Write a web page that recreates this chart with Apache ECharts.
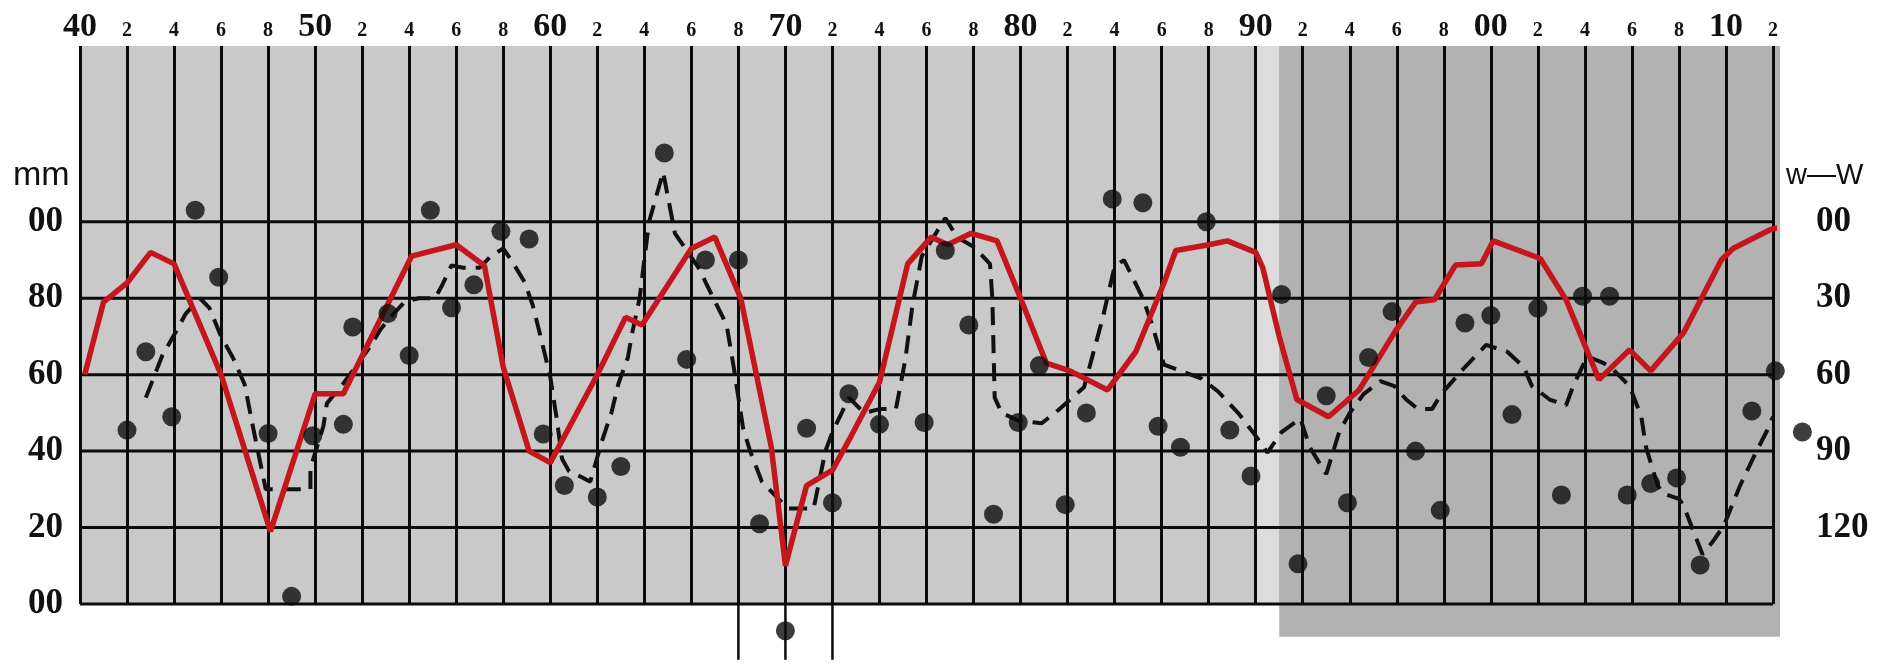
<!DOCTYPE html>
<html><head><meta charset="utf-8">
<script src="https://cdn.jsdelivr.net/npm/echarts@6/dist/echarts.min.js"></script>
<style>html,body{margin:0;padding:0;background:#fff}#c{width:1895px;height:672px}</style>
</head><body><div id="c"></div>
<script>
// ---- data ----
const redYears = [1940.2,1941,1942,1943,1944,1946,1948.1,1950,1951.2,1954.1,1956,1957.2,1958,1959.1,1960,1962,1963.2,1963.9,1966,1967,1968.1,1969.4,1970,1970.9,1972,1972.8,1974,1975.2,1976.2,1976.9,1977.9,1979,1980,1981.1,1982.1,1983.7,1984.9,1986.1,1986.6,1988,1988.8,1990,1990.3,1991,1991.75,1993.1,1994.4,1995.9,1996.8,1997.6,1998.5,1999.6,2000.1,2002.1,2003.2,2004.6,2005.9,2006.8,2008.2,2009.8,2010.3,2011.9,2013.3];
const redValues = [60,79,84,92,89,60,19,55,55,91,94,88.5,62,40,37,60,75,73,93,96,80,41,10,31,35,44,58,89,96,94,97,95,80,63,61,56,66,84,92.5,94,95,92,88,70,53.5,49,56,71,79,79.6,88.7,89,95,90.4,79.6,58.7,66.5,61,71,90,93,98,100];

const dashYears = [1942.8,1943.5,1944.1,1944.5,1945.1,1945.5,1946,1946.5,1947,1947.4,1947.9,1949.8,1949.8,1950.35,1950.5,1951.2,1952.3,1952.8,1953.3,1953.8,1954.4,1955.1,1955.4,1955.8,1956.3,1957,1957.5,1958,1958.4,1958.9,1959.25,1959.6,1960,1960.3,1960.5,1960.8,1961.3,1961.7,1962.2,1962.6,1962.9,1963.3,1963.5,1963.8,1964.2,1964.8,1965.3,1966.3,1967.5,1967.8,1968.2,1968.5,1969,1970.1,1971.2,1971.7,1972,1972.7,1973.35,1974,1974.7,1975.1,1975.4,1975.8,1976.8,1977.3,1978,1978.7,1978.8,1978.9,1979.2,1979.9,1980.9,1981.6,1982.7,1983.5,1984,1984.4,1985.2,1985.6,1986.1,1986.8,1987.7,1988.4,1989.25,1990,1990.5,1991.1,1991.9,1992.3,1993,1993.55,1994,1994.6,1995.3,1995.9,1996.4,1996.9,1997.5,1997.9,1998.9,1999.8,2000.7,2001.4,2001.75,2002.5,2003.2,2003.5,2004.1,2004.8,2005.1,2005.9,2006.4,2006.6,2007.1,2007.3,2008,2008.2,2008.7,2009,2009.4,2009.9,2010.6,2011.3,2011.75,2012];
const dashValues = [54,65,71.5,76,80,77.5,70,64.5,57.5,45,30,30,35.5,46.5,52.5,57.7,67,72,75.7,79,80,80,83.4,88.6,88,88,91.2,93,89.4,84.3,78.3,69.7,59.4,47.4,38,34.7,33.3,32,42.7,50,57.7,64.5,71.4,80,100,113,97,88,73,62,46,40,32,25,25,40,45,54,50,51,51,64,78,91,101,96,93.5,89,80,54,50,48,47.3,50.7,56.7,75,88.3,90,80,73,62.6,61,59,55.6,50,44,39.6,45,48.5,41,34,45,50,55,58.3,57,53.5,51,51,55,62,67.8,66,62,57,53.5,52,57,64.8,63,62,57,49,41,31,29,27.5,25.7,17.7,13,16,20.4,31,40,45.4,49];

const dotYears = [1942,1942.8,1943.9,1944.9,1945.9,1948,1949,1949.9,1951.2,1951.6,1953.1,1954,1954.9,1955.8,1956.75,1957.9,1959.1,1959.7,1960.6,1962,1963,1964.85,1965.8,1966.6,1968,1968.9,1970,1970.9,1972,1972.7,1974,1975.9,1976.8,1977.8,1978.85,1979.9,1980.8,1981.9,1982.8,1983.9,1985.2,1985.85,1986.8,1987.9,1988.9,1989.8,1991.1,1991.8,1993,1993.9,1994.8,1995.8,1996.8,1997.85,1998.9,2000,2000.9,2002,2003,2003.9,2005.05,2005.8,2006.8,2007.9,2008.9,2011.1,2012.1,2013.25];
const dotValues = [45.5,66,49,103,85.5,44.6,2,44,47,72.5,76,65,103,77.5,83.5,97.5,95.5,44.5,31,28,36,118,64,90,90,21,-7,46,26.5,55,47,47.5,92.5,73,23.5,47.5,62.4,26,50,106,105,46.5,41,100,45.5,33.5,81,10.5,54.5,26.5,64.5,76.5,40,24.5,73.5,75.5,49.6,77.4,28.5,80.5,80.5,28.5,31.5,33,10.2,50.5,61,45];

const leftTickLabels = {0:'00',20:'20',40:'40',60:'60',80:'80',100:'00'};
const rightTickLabels = {100:'00',80:'30',60:'60',40:'90',20:'120'};
const gridLineValues = [0,20,40,60,80,100];
const stemYears = [1968,1970,1972];
// --------------------------------------

const zip = (a,b) => a.map((x,i)=>[x,b[i]]);
const serif = 'Liberation Serif';
const ink = '#0b0b0b';
const pad2 = v => String(((v%100)+100)%100).padStart(2,'0');

const chart = echarts.init(document.getElementById('c'));
chart.setOption({
  animation:false,
  backgroundColor:'#ffffff',
  grid:{left:80,right:122,top:46,bottom:68,show:true,backgroundColor:'#c9c9c9',borderWidth:0},
  xAxis:{type:'value',min:1940,max:2012,interval:2,position:'top',z:2,
    axisLine:{show:false},axisTick:{show:false},
    splitLine:{show:true,lineStyle:{color:ink,width:3}},
    axisLabel:{margin:19,verticalAlign:'middle',
      formatter:v=> v%10===0 ? '{b|'+pad2(v)+'}' : '{s|'+(v%10)+'}',
      rich:{b:{fontFamily:serif,fontSize:34,fontWeight:'bold',color:'#111'},
            s:{fontFamily:serif,fontSize:20,fontWeight:'bold',color:'#111',padding:[7,0,0,0]}}}},
  yAxis:[
    {type:'value',min:0,max:146,interval:20,position:'left',z:2,
     axisLine:{show:false},axisTick:{show:false},splitLine:{show:false},
     axisLabel:{margin:17,formatter:v=>leftTickLabels[v]??'',fontFamily:serif,fontSize:35,fontWeight:'bold',color:'#111'}},
    {type:'value',min:0,max:146,interval:20,position:'right',z:2,
     axisLine:{show:false},axisTick:{show:false},splitLine:{show:false},
     axisLabel:{margin:43,formatter:v=>rightTickLabels[v]??'',fontFamily:serif,fontSize:35,fontWeight:'bold',color:'#111'}}
  ],
  graphic:[
    {type:'text',x:13,y:176,style:{text:'mm',font:'34px "Liberation Sans"',fill:'#111',verticalAlign:'middle'}},
    {type:'text',x:1786,y:176,style:{text:'w—W',font:'29px "Liberation Sans"',fill:'#111',verticalAlign:'middle'}}
  ],
  series:[
    {type:'custom',z:1,silent:true,clip:false,
     data:[[1990,1991,0,146],[1991,2012.3,-8.6,146]],
     encode:{x:[0,1],y:[2,3]},
     renderItem:(p,api)=>{
       const a=api.coord([api.value(0),api.value(3)]), b=api.coord([api.value(1),api.value(2)]);
       return {type:'rect',shape:{x:a[0],y:a[1],width:b[0]-a[0],height:b[1]-a[1]},
               style:{fill:p.dataIndex===0?'#dcdcdc':'#b2b2b2'}};
     }},
    {type:'custom',z:2,silent:true,clip:false,
     data:gridLineValues.map(v=>[v]),encode:{y:0},
     renderItem:(p,api)=>{
       const a=api.coord([1940,api.value(0)]), b=api.coord([2012,api.value(0)]);
       return {type:'line',shape:{x1:a[0],y1:a[1],x2:b[0],y2:b[1]},style:{stroke:ink,lineWidth:3}};
     }},
    {type:'custom',z:2,silent:true,clip:false,
     data:stemYears.map(v=>[v]),encode:{x:0},
     renderItem:(p,api)=>{
       const a=api.coord([api.value(0),0]), b=api.coord([api.value(0),-14.6]);
       return {type:'line',shape:{x1:a[0],y1:a[1],x2:b[0],y2:b[1]},style:{stroke:ink,lineWidth:2.5}};
     }},
    {type:'line',z:3,data:zip(dashYears,dashValues),symbol:'none',
     lineStyle:{color:'#111',width:4,type:[18,10]}},
    {type:'line',z:4,clip:false,data:zip(redYears,redValues),symbol:'none',
     lineStyle:{color:'#c4161c',width:5.5}},
    {type:'scatter',z:5,clip:false,data:zip(dotYears,dotValues),symbolSize:19,
     itemStyle:{color:'#0d0d0d'}}
  ]
});
</script></body></html>
